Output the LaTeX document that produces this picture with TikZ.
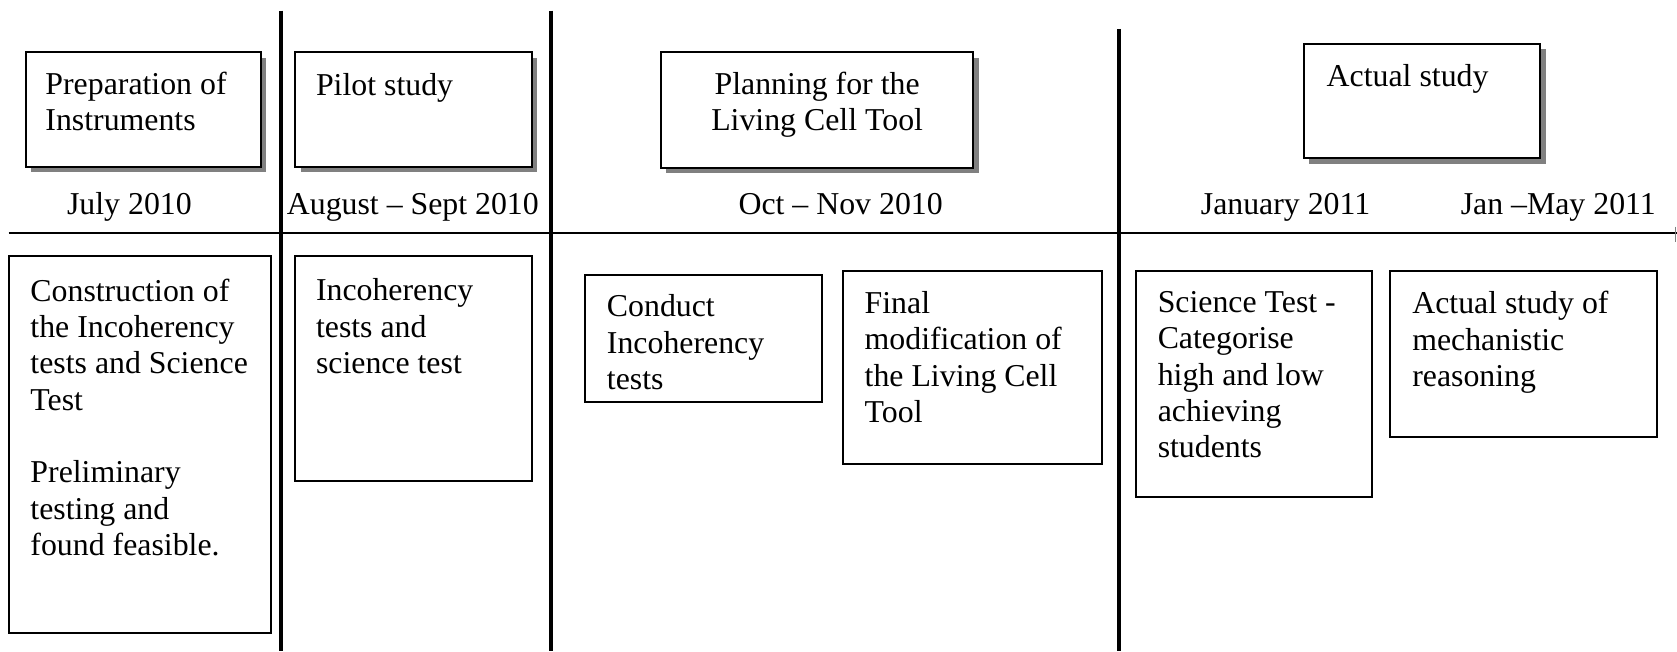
\documentclass[tikz,border=0pt]{standalone}
\usepackage{fontspec}
\setmainfont{Liberation Serif}
\usetikzlibrary{shadows,fit}
\begin{document}
\begin{tikzpicture}[x=0.41pt, y=-0.41pt,
  every node/.style={font=\fontsize{12.2}{13.94}\selectfont},
  panel/.style={draw, line width=0.78pt, fill=white, inner sep=0pt},
  phase/.style={panel, drop shadow={shadow xshift=2.1pt, shadow yshift=-2.1pt, fill=gray, opacity=1}},
  words/.style={inner sep=0pt, anchor=north west, align=left},
  date/.style={inner sep=0pt, anchor=base},
  divider/.style={line width=1.5pt},
  axis/.style={line width=0.95pt}]

\path[use as bounding box] (0,0) rectangle (1568,609);

% time axis and period dividers
\draw[axis] (8,218) -- (1568,218);
\draw[line width=0.4pt, gray] (1566.5,212) -- (1566.5,226);
\draw[divider] (263,10) -- (263,609);
\draw[divider] (515,10) -- (515,609);
\draw[divider] (1046,27) -- (1046,609);

% phases above the axis
\node[phase, fit={(24,49) (244,156)}] (prep) {};
\node[words] (preptext) at (42,67) {Preparation of\\Instruments};

\node[phase, fit={(276,49) (497,156)}] (pilot) {};
\node[words] (pilottext) at (295,68) {Pilot study};

\node[phase, fit={(618,49) (910,157)}] (plan) {};
\node[words, anchor=north, align=center] (plantext) at (764,67) {Planning for the\\Living Cell Tool};

\node[phase, fit={(1219,41) (1440,148)}] (actual) {};
\node[words] (actualtext) at (1240,60) {Actual study};

% dates on the axis
\node[date] (d1) at (121,201) {July 2010};
\node[date] (d2) at (386,201) {August -- Sept 2010};
\node[date] (d3) at (786,201) {Oct -- Nov 2010};
\node[date] (d4) at (1202,201) {January 2011};
\node[date] (d5) at (1457,201) {Jan --May 2011};

% activities below the axis
\node[panel, fit={(8,239) (253,592)}] (construct) {};
\node[words] (constructtext) at (28,260) {Construction of\\the Incoherency\\tests and Science\\Test\\[13.94pt]Preliminary\\testing and\\found feasible.};

\node[panel, fit={(276,239) (497,450)}] (tests) {};
\node[words] (teststext) at (295,260) {Incoherency\\tests and\\science test};

\node[panel, fit={(547,257) (769,376)}] (conduct) {};
\node[words] (conducttext) at (567,275) {Conduct\\Incoherency\\tests};

\node[panel, fit={(788,253) (1030,434)}] (final) {};
\node[words] (finaltext) at (808,272) {Final\\modification of\\the Living Cell\\Tool};

\node[panel, fit={(1062,253) (1283,465)}] (science) {};
\node[words] (sciencetext) at (1082,272) {Science Test -\\Categorise\\high and low\\achieving\\students};

\node[panel, fit={(1300,253) (1549,409)}] (mech) {};
\node[words] (mechtext) at (1320,272) {Actual study of\\mechanistic\\reasoning};

\end{tikzpicture}
\end{document}
